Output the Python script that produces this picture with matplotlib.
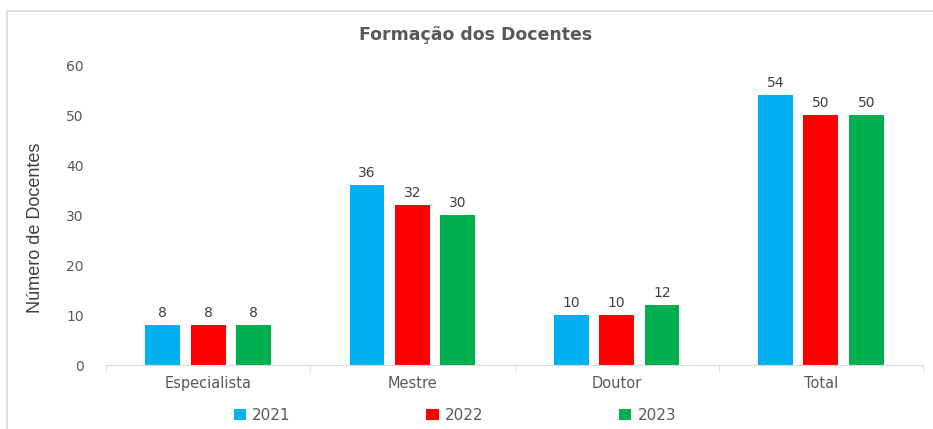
import numpy as np
import matplotlib.pyplot as plt
from matplotlib.patches import Rectangle

# Dados do gráfico
categorias = ['Especialista', 'Mestre', 'Doutor', 'Total']
anos = ['2021', '2022', '2023']
valores_2021 = [8, 36, 10, 54]
valores_2022 = [8, 32, 10, 50]
valores_2023 = [8, 30, 12, 50]
cores = ['#00B0F0', '#FF0000', '#00B050']

series = [valores_2021, valores_2022, valores_2023]
cinza = '#595959'

fig = plt.figure(figsize=(9.33, 4.29), dpi=100)
ax = fig.add_axes([0.1136, 0.149, 0.8757, 0.699])

# borda do gráfico
fig.patches.append(Rectangle((7 / 933, -0.1), 1.2, 1.1 - 11 / 429, transform=fig.transFigure,
                             fill=False, edgecolor='#D9D9D9', linewidth=1.2))

x = np.arange(len(categorias))
largura = 0.171
passo = 0.222
for i, (vals, cor, ano) in enumerate(zip(series, cores, anos)):
    pos = x + (i - 1) * passo
    barras = ax.bar(pos, vals, width=largura, color=cor, label=ano)
    for b, v in zip(barras, vals):
        ax.text(b.get_x() + b.get_width() / 2, v + 1.1, str(v), ha='center', va='bottom',
                fontsize=10, color='#404040')

ax.set_xlim(-0.5, len(categorias) - 0.5)
ax.set_ylim(0, 60)
ax.set_yticks(range(0, 61, 10))
ax.set_xticks(x)
ax.set_xticklabels(categorias)
ax.set_xticks(np.arange(-0.5, len(categorias)), minor=True)
ax.tick_params(axis='x', which='major', length=0, pad=8, labelsize=10.5, labelcolor=cinza)
ax.tick_params(axis='x', which='minor', length=5, color='#D9D9D9')
ax.tick_params(axis='y', length=0, pad=16, labelsize=10, labelcolor=cinza)

for lado in ['top', 'right', 'left']:
    ax.spines[lado].set_visible(False)
ax.spines['bottom'].set_color('#D9D9D9')

fig.text(0.51, 0.918, 'Formação dos Docentes', ha='center', va='center',
         fontsize=12.5, fontweight='bold', color=cinza)
fig.text(0.038, 0.47, 'Número de Docentes', ha='center', va='center', rotation=90,
         fontsize=13, color='#404040', family=['Liberation Sans Narrow', 'Liberation Sans'],
         fontstretch='condensed')

ax.legend(loc='center', bbox_to_anchor=(0.427, -0.168), ncol=3, frameon=False,
          fontsize=11, labelcolor=cinza, handlelength=0.8, handleheight=0.8,
          handletextpad=0.4, columnspacing=8.9)

plt.savefig('out.png', dpi=100)
